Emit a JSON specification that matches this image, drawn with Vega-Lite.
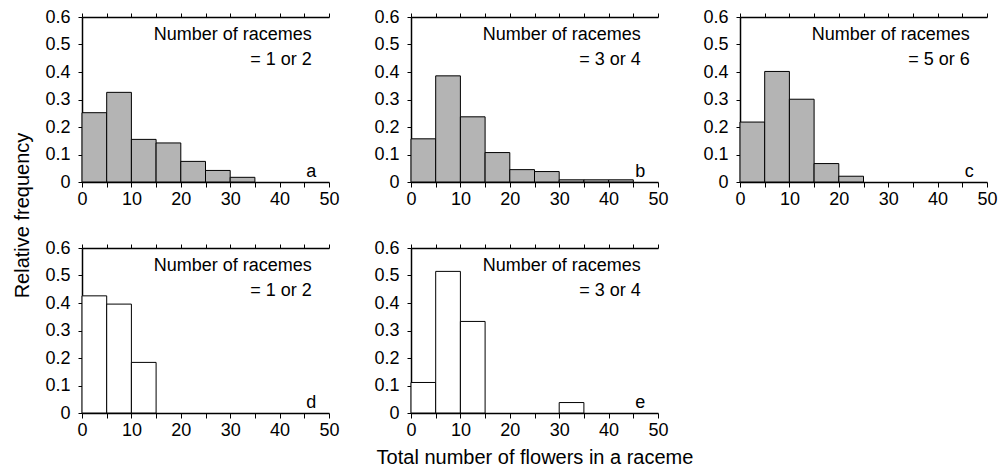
{
  "$schema": "https://vega.github.io/schema/vega-lite/v6.json",
  "padding": {"left": 12, "top": 8, "right": 5, "bottom": 5},
  "datasets": {
    "bars": [
      {"panel": "a", "x0": 0, "x1": 5, "freq": 0.252},
      {"panel": "a", "x0": 5, "x1": 10, "freq": 0.326},
      {"panel": "a", "x0": 10, "x1": 15, "freq": 0.155},
      {"panel": "a", "x0": 15, "x1": 20, "freq": 0.142},
      {"panel": "a", "x0": 20, "x1": 25, "freq": 0.075},
      {"panel": "a", "x0": 25, "x1": 30, "freq": 0.042},
      {"panel": "a", "x0": 30, "x1": 35, "freq": 0.017},
      {"panel": "b", "x0": 0, "x1": 5, "freq": 0.157},
      {"panel": "b", "x0": 5, "x1": 10, "freq": 0.386},
      {"panel": "b", "x0": 10, "x1": 15, "freq": 0.237},
      {"panel": "b", "x0": 15, "x1": 20, "freq": 0.107},
      {"panel": "b", "x0": 20, "x1": 25, "freq": 0.045},
      {"panel": "b", "x0": 25, "x1": 30, "freq": 0.038},
      {"panel": "b", "x0": 30, "x1": 35, "freq": 0.008},
      {"panel": "b", "x0": 35, "x1": 40, "freq": 0.008},
      {"panel": "b", "x0": 40, "x1": 45, "freq": 0.008},
      {"panel": "c", "x0": 0, "x1": 5, "freq": 0.218},
      {"panel": "c", "x0": 5, "x1": 10, "freq": 0.402},
      {"panel": "c", "x0": 10, "x1": 15, "freq": 0.301},
      {"panel": "c", "x0": 15, "x1": 20, "freq": 0.067},
      {"panel": "c", "x0": 20, "x1": 25, "freq": 0.021},
      {"panel": "d", "x0": 0, "x1": 5, "freq": 0.426},
      {"panel": "d", "x0": 5, "x1": 10, "freq": 0.396},
      {"panel": "d", "x0": 10, "x1": 15, "freq": 0.184},
      {"panel": "e", "x0": 0, "x1": 5, "freq": 0.111},
      {"panel": "e", "x0": 5, "x1": 10, "freq": 0.515},
      {"panel": "e", "x0": 10, "x1": 15, "freq": 0.333},
      {"panel": "e", "x0": 30, "x1": 35, "freq": 0.038}
    ],
    "labels": [
      {"panel": "a", "line1": "Number of racemes", "line2": "= 1 or 2", "letter": "a"},
      {"panel": "b", "line1": "Number of racemes", "line2": "= 3 or 4", "letter": "b"},
      {"panel": "c", "line1": "Number of racemes", "line2": "= 5 or 6", "letter": "c"},
      {"panel": "d", "line1": "Number of racemes", "line2": "= 1 or 2", "letter": "d"},
      {"panel": "e", "line1": "Number of racemes", "line2": "= 3 or 4", "letter": "e"}
    ]
  },
  "columns": 3,
  "bounds": "flush",
  "spacing": {"row": 66, "column": 82},
  "concat": [
    {
      "width": 247, "height": 165,
      "resolve": {"axis": {"x": "independent", "y": "independent"}},
      "layer": [
        {
          "data": {"name": "bars"},
          "transform": [{"filter": "datum.panel === 'a'"}],
          "mark": {"type": "bar", "fill": "#b4b4b4", "stroke": "black", "strokeWidth": 1},
          "encoding": {
            "x": {"field": "x0", "type": "quantitative", "scale": {"domain": [0, 50], "nice": false},
                  "axis": {"orient": "bottom", "values": [0,5,10,15,20,25,30,35,40,45,50], "labelExpr": "datum.value % 10 === 0 ? datum.label : ''", "tickSize": 5, "labelPadding": 3, "labelFlush": false, "labelOverlap": false, "title": null}},
            "x2": {"field": "x1"},
            "y": {"field": "freq", "type": "quantitative", "scale": {"domain": [0, 0.6], "nice": false},
                  "axis": {"orient": "left", "values": [0,0.1,0.2,0.3,0.4,0.5,0.6], "labelExpr": "datum.value === 0 ? '0' : format(datum.value, '.1f')", "tickSize": 4, "labelPadding": 8, "labelOverlap": false,
                           "title": "Relative frequency", "titleX": -60, "titleY": 198, "titleAngle": -90, "titleAlign": "center", "titleBaseline": "middle"}},
            "y2": {"datum": 0}
          }
        },
        {
          "data": {"name": "labels"},
          "transform": [{"filter": "datum.panel === 'a'"}],
          "mark": {"type": "text", "align": "right", "baseline": "middle"},
          "encoding": {
            "x": {"datum": 46.5, "type": "quantitative", "axis": {"orient": "top", "values": [0,5,10,15,20,25,30,35,40,45,50], "labels": false, "tickSize": 4, "title": null}},
            "y": {"datum": 0.535, "type": "quantitative", "axis": null},
            "text": {"field": "line1"}
          }
        },
        {
          "data": {"name": "labels"},
          "transform": [{"filter": "datum.panel === 'a'"}],
          "mark": {"type": "text", "align": "right", "baseline": "middle"},
          "encoding": {
            "x": {"datum": 46.5, "type": "quantitative", "axis": null},
            "y": {"datum": 0.445, "type": "quantitative", "axis": null},
            "text": {"field": "line2"}
          }
        },
        {
          "data": {"name": "labels"},
          "transform": [{"filter": "datum.panel === 'a'"}],
          "mark": {"type": "text", "align": "center", "baseline": "middle"},
          "encoding": {
            "x": {"datum": 46.4, "type": "quantitative", "axis": null},
            "y": {"datum": 0.035, "type": "quantitative", "axis": null},
            "text": {"field": "letter"}
          }
        }
      ]
    },
    {
      "width": 247, "height": 165,
      "resolve": {"axis": {"x": "independent", "y": "independent"}},
      "layer": [
        {
          "data": {"name": "bars"},
          "transform": [{"filter": "datum.panel === 'b'"}],
          "mark": {"type": "bar", "fill": "#b4b4b4", "stroke": "black", "strokeWidth": 1},
          "encoding": {
            "x": {"field": "x0", "type": "quantitative", "scale": {"domain": [0, 50], "nice": false},
                  "axis": {"orient": "bottom", "values": [0,5,10,15,20,25,30,35,40,45,50], "labelExpr": "datum.value % 10 === 0 ? datum.label : ''", "tickSize": 5, "labelPadding": 3, "labelFlush": false, "labelOverlap": false, "title": null}},
            "x2": {"field": "x1"},
            "y": {"field": "freq", "type": "quantitative", "scale": {"domain": [0, 0.6], "nice": false},
                  "axis": {"orient": "left", "values": [0,0.1,0.2,0.3,0.4,0.5,0.6], "labelExpr": "datum.value === 0 ? '0' : format(datum.value, '.1f')", "tickSize": 4, "labelPadding": 8, "labelOverlap": false, "title": null}},
            "y2": {"datum": 0}
          }
        },
        {
          "data": {"name": "labels"},
          "transform": [{"filter": "datum.panel === 'b'"}],
          "mark": {"type": "text", "align": "right", "baseline": "middle"},
          "encoding": {
            "x": {"datum": 46.5, "type": "quantitative", "axis": {"orient": "top", "values": [0,5,10,15,20,25,30,35,40,45,50], "labels": false, "tickSize": 4, "title": null}},
            "y": {"datum": 0.535, "type": "quantitative", "axis": null},
            "text": {"field": "line1"}
          }
        },
        {
          "data": {"name": "labels"},
          "transform": [{"filter": "datum.panel === 'b'"}],
          "mark": {"type": "text", "align": "right", "baseline": "middle"},
          "encoding": {
            "x": {"datum": 46.5, "type": "quantitative", "axis": null},
            "y": {"datum": 0.445, "type": "quantitative", "axis": null},
            "text": {"field": "line2"}
          }
        },
        {
          "data": {"name": "labels"},
          "transform": [{"filter": "datum.panel === 'b'"}],
          "mark": {"type": "text", "align": "center", "baseline": "middle"},
          "encoding": {
            "x": {"datum": 46.4, "type": "quantitative", "axis": null},
            "y": {"datum": 0.035, "type": "quantitative", "axis": null},
            "text": {"field": "letter"}
          }
        }
      ]
    },
    {
      "width": 247, "height": 165,
      "resolve": {"axis": {"x": "independent", "y": "independent"}},
      "layer": [
        {
          "data": {"name": "bars"},
          "transform": [{"filter": "datum.panel === 'c'"}],
          "mark": {"type": "bar", "fill": "#b4b4b4", "stroke": "black", "strokeWidth": 1},
          "encoding": {
            "x": {"field": "x0", "type": "quantitative", "scale": {"domain": [0, 50], "nice": false},
                  "axis": {"orient": "bottom", "values": [0,5,10,15,20,25,30,35,40,45,50], "labelExpr": "datum.value % 10 === 0 ? datum.label : ''", "tickSize": 5, "labelPadding": 3, "labelFlush": false, "labelOverlap": false, "title": null}},
            "x2": {"field": "x1"},
            "y": {"field": "freq", "type": "quantitative", "scale": {"domain": [0, 0.6], "nice": false},
                  "axis": {"orient": "left", "values": [0,0.1,0.2,0.3,0.4,0.5,0.6], "labelExpr": "datum.value === 0 ? '0' : format(datum.value, '.1f')", "tickSize": 4, "labelPadding": 8, "labelOverlap": false, "title": null}},
            "y2": {"datum": 0}
          }
        },
        {
          "data": {"name": "labels"},
          "transform": [{"filter": "datum.panel === 'c'"}],
          "mark": {"type": "text", "align": "right", "baseline": "middle"},
          "encoding": {
            "x": {"datum": 46.5, "type": "quantitative", "axis": {"orient": "top", "values": [0,5,10,15,20,25,30,35,40,45,50], "labels": false, "tickSize": 4, "title": null}},
            "y": {"datum": 0.535, "type": "quantitative", "axis": null},
            "text": {"field": "line1"}
          }
        },
        {
          "data": {"name": "labels"},
          "transform": [{"filter": "datum.panel === 'c'"}],
          "mark": {"type": "text", "align": "right", "baseline": "middle"},
          "encoding": {
            "x": {"datum": 46.5, "type": "quantitative", "axis": null},
            "y": {"datum": 0.445, "type": "quantitative", "axis": null},
            "text": {"field": "line2"}
          }
        },
        {
          "data": {"name": "labels"},
          "transform": [{"filter": "datum.panel === 'c'"}],
          "mark": {"type": "text", "align": "center", "baseline": "middle"},
          "encoding": {
            "x": {"datum": 46.4, "type": "quantitative", "axis": null},
            "y": {"datum": 0.035, "type": "quantitative", "axis": null},
            "text": {"field": "letter"}
          }
        }
      ]
    },
    {
      "width": 247, "height": 165,
      "resolve": {"axis": {"x": "independent", "y": "independent"}},
      "layer": [
        {
          "data": {"name": "bars"},
          "transform": [{"filter": "datum.panel === 'd'"}],
          "mark": {"type": "bar", "fill": "white", "stroke": "black", "strokeWidth": 1},
          "encoding": {
            "x": {"field": "x0", "type": "quantitative", "scale": {"domain": [0, 50], "nice": false},
                  "axis": {"orient": "bottom", "values": [0,5,10,15,20,25,30,35,40,45,50], "labelExpr": "datum.value % 10 === 0 ? datum.label : ''", "tickSize": 5, "labelPadding": 3, "labelFlush": false, "labelOverlap": false, "title": null}},
            "x2": {"field": "x1"},
            "y": {"field": "freq", "type": "quantitative", "scale": {"domain": [0, 0.6], "nice": false},
                  "axis": {"orient": "left", "values": [0,0.1,0.2,0.3,0.4,0.5,0.6], "labelExpr": "datum.value === 0 ? '0' : format(datum.value, '.1f')", "tickSize": 4, "labelPadding": 8, "labelOverlap": false, "title": null}},
            "y2": {"datum": 0}
          }
        },
        {
          "data": {"name": "labels"},
          "transform": [{"filter": "datum.panel === 'd'"}],
          "mark": {"type": "text", "align": "right", "baseline": "middle"},
          "encoding": {
            "x": {"datum": 46.5, "type": "quantitative", "axis": {"orient": "top", "values": [0,5,10,15,20,25,30,35,40,45,50], "labels": false, "tickSize": 4, "title": null}},
            "y": {"datum": 0.535, "type": "quantitative", "axis": null},
            "text": {"field": "line1"}
          }
        },
        {
          "data": {"name": "labels"},
          "transform": [{"filter": "datum.panel === 'd'"}],
          "mark": {"type": "text", "align": "right", "baseline": "middle"},
          "encoding": {
            "x": {"datum": 46.5, "type": "quantitative", "axis": null},
            "y": {"datum": 0.445, "type": "quantitative", "axis": null},
            "text": {"field": "line2"}
          }
        },
        {
          "data": {"name": "labels"},
          "transform": [{"filter": "datum.panel === 'd'"}],
          "mark": {"type": "text", "align": "center", "baseline": "middle"},
          "encoding": {
            "x": {"datum": 46.4, "type": "quantitative", "axis": null},
            "y": {"datum": 0.035, "type": "quantitative", "axis": null},
            "text": {"field": "letter"}
          }
        }
      ]
    },
    {
      "width": 247, "height": 165,
      "resolve": {"axis": {"x": "independent", "y": "independent"}},
      "layer": [
        {
          "data": {"name": "bars"},
          "transform": [{"filter": "datum.panel === 'e'"}],
          "mark": {"type": "bar", "fill": "white", "stroke": "black", "strokeWidth": 1},
          "encoding": {
            "x": {"field": "x0", "type": "quantitative", "scale": {"domain": [0, 50], "nice": false},
                  "axis": {"orient": "bottom", "values": [0,5,10,15,20,25,30,35,40,45,50], "labelExpr": "datum.value % 10 === 0 ? datum.label : ''", "tickSize": 5, "labelPadding": 3, "labelFlush": false, "labelOverlap": false,
                           "title": "Total number of flowers in a raceme", "titlePadding": 8}},
            "x2": {"field": "x1"},
            "y": {"field": "freq", "type": "quantitative", "scale": {"domain": [0, 0.6], "nice": false},
                  "axis": {"orient": "left", "values": [0,0.1,0.2,0.3,0.4,0.5,0.6], "labelExpr": "datum.value === 0 ? '0' : format(datum.value, '.1f')", "tickSize": 4, "labelPadding": 8, "labelOverlap": false, "title": null}},
            "y2": {"datum": 0}
          }
        },
        {
          "data": {"name": "labels"},
          "transform": [{"filter": "datum.panel === 'e'"}],
          "mark": {"type": "text", "align": "right", "baseline": "middle"},
          "encoding": {
            "x": {"datum": 46.5, "type": "quantitative", "axis": {"orient": "top", "values": [0,5,10,15,20,25,30,35,40,45,50], "labels": false, "tickSize": 4, "title": null}},
            "y": {"datum": 0.535, "type": "quantitative", "axis": null},
            "text": {"field": "line1"}
          }
        },
        {
          "data": {"name": "labels"},
          "transform": [{"filter": "datum.panel === 'e'"}],
          "mark": {"type": "text", "align": "right", "baseline": "middle"},
          "encoding": {
            "x": {"datum": 46.5, "type": "quantitative", "axis": null},
            "y": {"datum": 0.445, "type": "quantitative", "axis": null},
            "text": {"field": "line2"}
          }
        },
        {
          "data": {"name": "labels"},
          "transform": [{"filter": "datum.panel === 'e'"}],
          "mark": {"type": "text", "align": "center", "baseline": "middle"},
          "encoding": {
            "x": {"datum": 46.4, "type": "quantitative", "axis": null},
            "y": {"datum": 0.035, "type": "quantitative", "axis": null},
            "text": {"field": "letter"}
          }
        }
      ]
    }
  ],
  "config": {
    "view": {"stroke": null},
    "axis": {
      "grid": false,
      "labelFont": "Liberation Sans", "titleFont": "Liberation Sans",
      "labelFontSize": 18, "titleFontSize": 20, "titleFontWeight": "normal",
      "labelColor": "black", "titleColor": "black",
      "domainColor": "black", "tickColor": "black",
      "domainWidth": 1.5, "tickWidth": 1
    },
    "text": {"font": "Liberation Sans", "fontSize": 18, "color": "black"}
  }
}
